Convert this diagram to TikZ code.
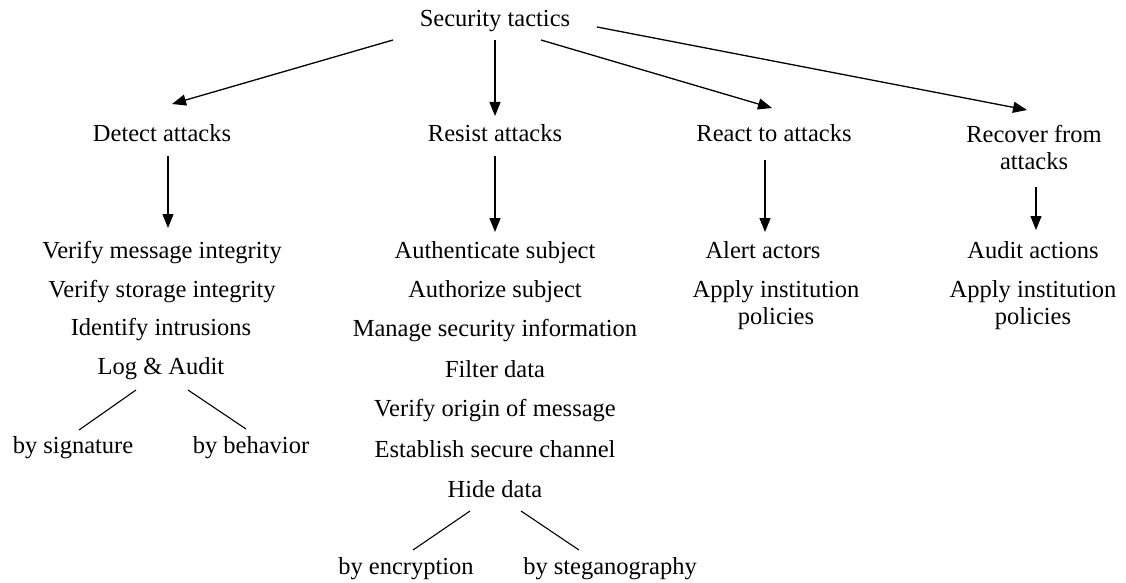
\documentclass[tikz,border=0pt]{standalone}
\usepackage{fontspec}
\setmainfont{Liberation Serif}
\usetikzlibrary{arrows.meta}
\begin{document}
\begin{tikzpicture}[x=1pt,y=-1pt,
  lbl/.style={inner sep=0pt,anchor=base,align=center,font=\fontsize{24.5}{27}\selectfont},
  arr/.style={line width=1.3pt,-{Triangle[length=14pt,width=11pt]}},
  ln/.style={line width=1.1pt}]
\useasboundingbox (0,0) rectangle (1126,583);
\node[lbl] (top) at (495,27) {Security tactics};
\node[lbl] (detect) at (162,142) {Detect attacks};
\node[lbl] (resist) at (495,142) {Resist attacks};
\node[lbl] (react) at (774,142) {React to attacks};
\node[lbl] (recover) at (1034,169) {Recover from\\attacks};
% detect list
\node[lbl] (d1) at (162,258) {Verify message integrity};
\node[lbl] (d2) at (162,297) {Verify storage integrity};
\node[lbl] (d3) at (161,335) {Identify intrusions};
\node[lbl] (d4) at (161,374) {Log \& Audit};
\node[lbl] (sig) at (73,453) {by signature};
\node[lbl] (beh) at (251,453) {by behavior};
% resist list
\node[lbl] (r1) at (495,258) {Authenticate subject};
\node[lbl] (r2) at (495,297) {Authorize subject};
\node[lbl] (r3) at (495,336) {Manage security information};
\node[lbl] (r4) at (495,377) {Filter data};
\node[lbl] (r5) at (495,416) {Verify origin of message};
\node[lbl] (r6) at (495,457) {Establish secure channel};
\node[lbl] (r7) at (495,497) {Hide data};
\node[lbl] (enc) at (406,574) {by encryption};
\node[lbl] (steg) at (610,574) {by steganography};
% react list
\node[lbl] (a1) at (763,258) {Alert actors};
\node[lbl] (a2) at (776,324) {Apply institution\\policies};
% recover list
\node[lbl] (c1) at (1033,258) {Audit actions};
\node[lbl] (c2) at (1033,324) {Apply institution\\policies};
% arrows from top
\draw[arr] ([shift={(-102,13)}]top.base) -- ([shift={(10,-38)}]detect.base);
\draw[arr] ([shift={(0,13)}]top.base) -- ([shift={(0,-26)}]resist.base);
\draw[arr] ([shift={(46,13)}]top.base) -- ([shift={(-2,-34)}]react.base);
\draw[arr] ([shift={(102,0)}]top.base) -- ([shift={(-7,-59)}]recover.base);
% vertical arrows
\draw[arr] ([shift={(6,14)}]detect.base) -- ([shift={(6,-30)}]d1.base);
\draw[arr] ([shift={(0,14)}]resist.base) -- ([shift={(0,-26)}]r1.base);
\draw[arr] ([shift={(-9,18)}]react.base) -- ([shift={(2,-26)}]a1.base);
\draw[arr] ([shift={(2,18)}]recover.base) -- ([shift={(3,-28)}]c1.base);
% branch lines
\draw[ln] ([shift={(-25,16)}]d4.base) -- ([shift={(6,-23)}]sig.base);
\draw[ln] ([shift={(27,16)}]d4.base) -- ([shift={(-5,-24)}]beh.base);
\draw[ln] ([shift={(-25,14)}]r7.base) -- ([shift={(7,-24)}]enc.base);
\draw[ln] ([shift={(26,14)}]r7.base) -- ([shift={(-31,-24)}]steg.base);
\end{tikzpicture}
\end{document}
